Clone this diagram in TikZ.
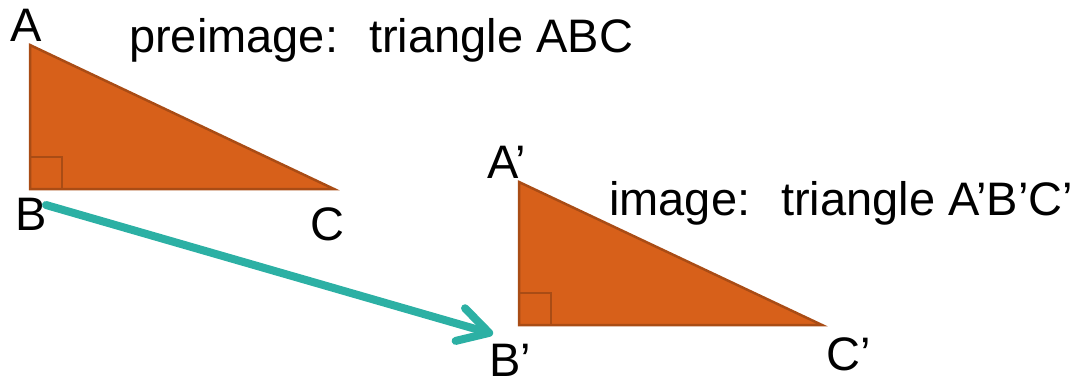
\documentclass[tikz,border=0pt]{standalone}
\usepackage{fontspec}
\setmainfont{Liberation Sans}
\usetikzlibrary{arrows.meta}
\definecolor{triFill}{HTML}{D7601A}
\definecolor{triEdge}{HTML}{A94C15}
\definecolor{arrowTeal}{HTML}{2CB0A4}
\begin{document}
\begin{tikzpicture}[x=1pt,y=-1pt,
  lbl/.style={font=\fontsize{47}{52}\selectfont, inner sep=0pt, anchor=base, text depth=0pt},
  caption/.style={font=\fontsize{47}{52}\selectfont, inner sep=0pt, anchor=base west},
  tri/.style={fill=triFill, draw=triEdge, line width=2.5pt, line join=miter},
  rightmark/.style={draw=triEdge, line width=2.5pt},
  move/.style={draw=arrowTeal, line width=8pt, line cap=round,
    -{Straight Barb[length=30pt,width=34pt,round]}}]
\useasboundingbox (0,0) rectangle (1073,386);
% preimage triangle
\coordinate (A) at (30,45);
\coordinate (B) at (30,189);
\coordinate (C) at (334,189);
\draw[tri] (A) -- (B) -- (C) -- cycle;
\draw[rightmark] (30,157) -- (62,157) -- (62,189);
% image triangle
\coordinate (A2) at (519,182);
\coordinate (B2) at (519,325);
\coordinate (C2) at (822,325);
\draw[tri] (A2) -- (B2) -- (C2) -- cycle;
\draw[rightmark] (519,293) -- (551,293) -- (551,325);
% labels
\node[lbl] (lA) at (26.5,41) {A};
\node[lbl] (lB) at (31.5,230) {B};
\node[lbl] (lC) at (327,240) {C};
\node[lbl] (lA2) at (506.5,178) {A’};
\node[lbl] (lB2) at (510,376) {B’};
\node[lbl] (lC2) at (849,370) {C’};
\node[caption] (pre) at (129,52) {preimage:\hspace{31pt}triangle ABC};
\node[caption] (img) at (609,215) {image:\hspace{31pt}triangle A’B’C’};
% translation arrow
\coordinate (arrS) at (46,205);
\coordinate (arrE) at (493,334);
\draw[move] (arrS) -- (arrE);
\end{tikzpicture}
\end{document}
